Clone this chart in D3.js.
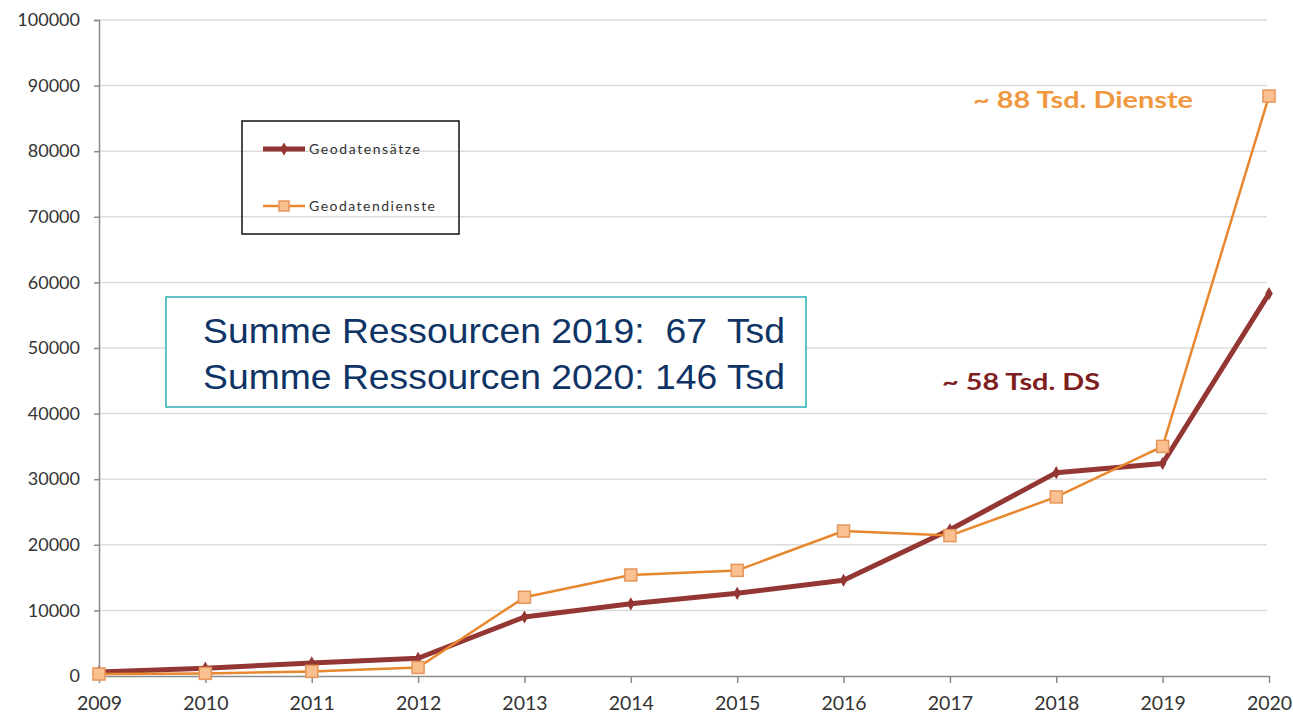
<!DOCTYPE html>
<html>
<head>
<meta charset="utf-8">
<script src="https://cdn.jsdelivr.net/npm/d3@7/dist/d3.min.js"></script>
<style>
  html, body { margin: 0; padding: 0; background: #fff; }
  svg { display: block; }
</style>
</head>
<body>
<svg id="chart" width="1293" height="715"></svg>
<script>
// ---- data ----
const years = [2009, 2010, 2011, 2012, 2013, 2014, 2015, 2016, 2017, 2018, 2019, 2020];
const geodatensaetze = [600, 1200, 2000, 2700, 9000, 11000, 12600, 14600, 22300, 31000, 32400, 58300];
const geodatendienste = [300, 400, 700, 1300, 12000, 15400, 16100, 22100, 21400, 27300, 35000, 88400];
const yTicks = [0, 10000, 20000, 30000, 40000, 50000, 60000, 70000, 80000, 90000, 100000];
const seriesNames = ["Geodatensätze", "Geodatendienste"];
const summaryLines = ["Summe Ressourcen 2019:  67  Tsd", "Summe Ressourcen 2020: 146 Tsd"];
const annotations = ["~ 88 Tsd. Dienste", "~ 58 Tsd. DS"];

// ---- layout ----
const svg = d3.select("#chart");
const x = d3.scalePoint().domain(years).range([99, 1269]);
const y = d3.scaleLinear().domain([0, 100000]).range([676, 20]);

const axisColor = "#8a8a8a";
const gridColor = "#dcdcdc";
const textColor = "#333333";
const redColor = "#943634";
const orangeColor = "#E8882E";
const labelFont = "Lato, 'Open Sans', sans-serif";

// gridlines
svg.append("g")
  .selectAll("line")
  .data(yTicks.filter(d => d > 0))
  .join("line")
  .attr("x1", x(2009)).attr("x2", 1267)
  .attr("y1", d => y(d)).attr("y2", d => y(d))
  .attr("stroke", gridColor).attr("stroke-width", 1.5);

// y axis
const yAxis = svg.append("g")
  .attr("transform", `translate(${x(2009)},0)`)
  .call(d3.axisLeft(y).tickValues(yTicks).tickSize(5).tickPadding(14).tickFormat(d3.format("d")));
yAxis.select(".domain").attr("stroke", axisColor).attr("stroke-width", 1.5);
yAxis.selectAll(".tick line").attr("stroke", axisColor).attr("stroke-width", 1.5);
yAxis.selectAll(".tick text")
  .attr("fill", textColor).style("font-family", labelFont).style("font-size", "18px");

// x axis
const xAxis = svg.append("g")
  .attr("transform", `translate(0,${y(0)})`)
  .call(d3.axisBottom(x).tickSize(7).tickPadding(13).tickSizeOuter(0));
xAxis.select(".domain").attr("stroke", axisColor).attr("stroke-width", 1.5);
xAxis.selectAll(".tick line").attr("stroke", axisColor).attr("stroke-width", 1.5);
xAxis.selectAll(".tick text")
  .attr("fill", textColor).style("font-family", labelFont).style("font-size", "19.5px");

// lines
const line = d3.line().x((d, i) => x(years[i])).y(d => y(d));

svg.append("path")
  .datum(geodatensaetze)
  .attr("d", line)
  .attr("fill", "none").attr("stroke", redColor).attr("stroke-width", 5)
  .attr("stroke-linejoin", "round");

svg.append("path")
  .datum(geodatendienste)
  .attr("d", line)
  .attr("fill", "none").attr("stroke", orangeColor).attr("stroke-width", 2.5)
  .attr("stroke-linejoin", "round");

// markers
const diamond = d3.symbol().type(d3.symbolDiamond).size(50);
svg.append("g")
  .selectAll("path")
  .data(geodatensaetze)
  .join("path")
  .attr("d", diamond)
  .attr("transform", (d, i) => `translate(${x(years[i])},${y(d)})`)
  .attr("fill", redColor);

svg.append("g")
  .selectAll("rect")
  .data(geodatendienste)
  .join("rect")
  .attr("x", (d, i) => x(years[i]) - 6)
  .attr("y", d => y(d) - 6)
  .attr("width", 12).attr("height", 12)
  .attr("fill", "#FAC090").attr("stroke", "#E6955A").attr("stroke-width", 1.5);

// legend
const legend = svg.append("g");
legend.append("rect")
  .attr("x", 242).attr("y", 121).attr("width", 217).attr("height", 113)
  .attr("fill", "none").attr("stroke", "#111").attr("stroke-width", 1.5);
const legendY = [149, 206];
legend.append("line")
  .attr("x1", 263).attr("x2", 305).attr("y1", legendY[0]).attr("y2", legendY[0])
  .attr("stroke", redColor).attr("stroke-width", 5);
legend.append("path").attr("d", diamond).attr("transform", `translate(284,${legendY[0]})`).attr("fill", redColor);
legend.append("line")
  .attr("x1", 263).attr("x2", 305).attr("y1", legendY[1]).attr("y2", legendY[1])
  .attr("stroke", orangeColor).attr("stroke-width", 2.5);
legend.append("rect").attr("x", 279).attr("y", legendY[1] - 5).attr("width", 10).attr("height", 10)
  .attr("fill", "#FAC090").attr("stroke", "#E6955A").attr("stroke-width", 1.5);
legend.selectAll("text.leg")
  .data(seriesNames)
  .join("text")
  .attr("class", "leg")
  .attr("x", 309).attr("y", (d, i) => legendY[i] + 5)
  .attr("textLength", (d, i) => i === 0 ? 111 : 126)
  .attr("lengthAdjust", "spacing")
  .attr("fill", textColor)
  .style("font-family", labelFont).style("font-size", "14px")
  .text(d => d);

// summary box
svg.append("rect")
  .attr("x", 166).attr("y", 297).attr("width", 640).attr("height", 110)
  .attr("fill", "#fff").attr("stroke", "#2AAFB6").attr("stroke-width", 1.5);
svg.selectAll("text.sum")
  .data(summaryLines)
  .join("text")
  .attr("class", "sum")
  .attr("x", 203).attr("y", (d, i) => 343 + i * 46)
  .attr("fill", "#0E3466")
  .attr("xml:space", "preserve")
  .style("white-space", "pre")
  .attr("textLength", 582).attr("lengthAdjust", "spacingAndGlyphs")
  .style("font-family", "'Liberation Sans', Arial, sans-serif").style("font-size", "35px")
  .text(d => d);

// annotations
svg.append("text")
  .attr("x", 973).attr("y", 108)
  .attr("fill", "#F0983F")
  .style("font-family", labelFont).style("font-weight", "700").style("font-size", "22px")
  .attr("textLength", 220).attr("lengthAdjust", "spacingAndGlyphs")
  .text(annotations[0]);
svg.append("text")
  .attr("x", 942).attr("y", 390)
  .attr("fill", "#7E1E1E")
  .style("font-family", labelFont).style("font-weight", "700").style("font-size", "23px")
  .attr("textLength", 158).attr("lengthAdjust", "spacingAndGlyphs")
  .text(annotations[1]);
</script>
</body>
</html>
